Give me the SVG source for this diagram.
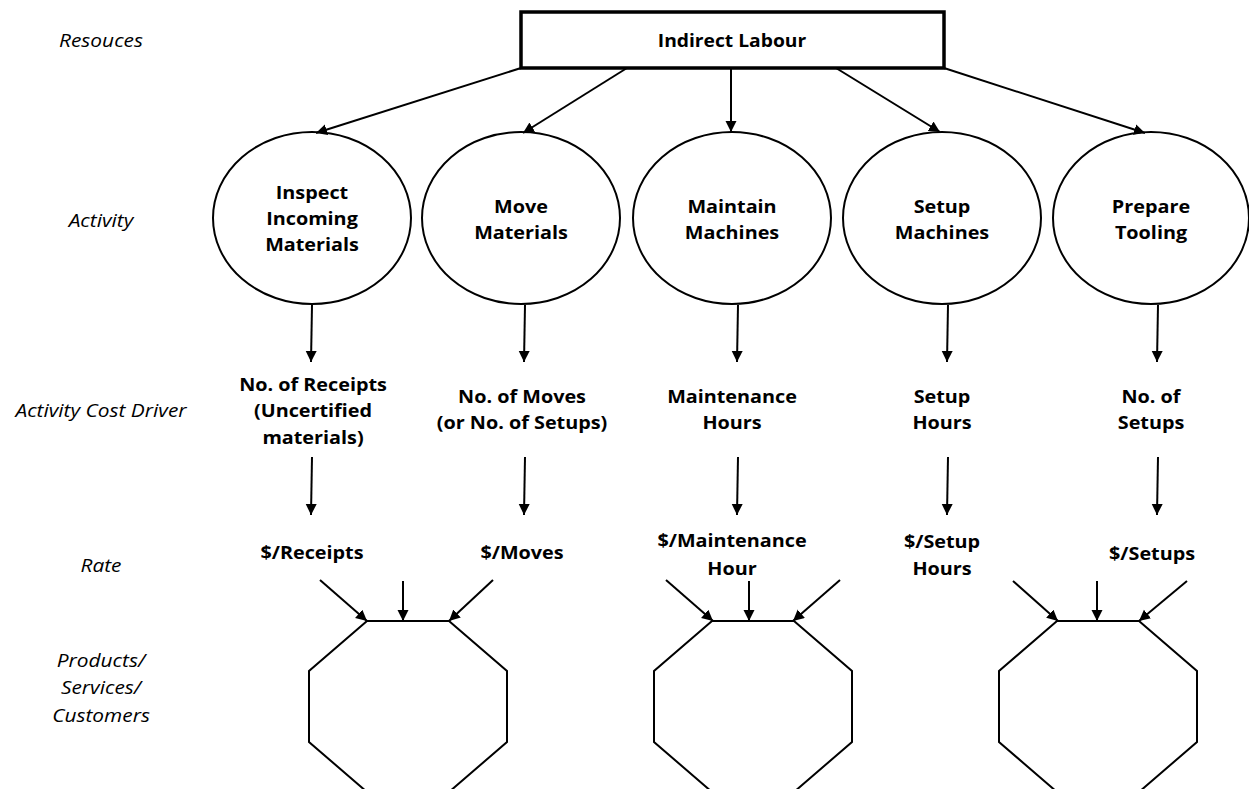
<svg xmlns="http://www.w3.org/2000/svg" width="1249" height="789" viewBox="0 0 1249 789">
  <style>
    .bg { fill: #ffffff; }
    .box { fill: #ffffff; stroke: #000000; stroke-width: 3.5; }
    .act { fill: #ffffff; stroke: #000000; stroke-width: 2; }
    .oct { fill: none; stroke: #000000; stroke-width: 2; stroke-linejoin: miter; }
    .edge { fill: none; stroke: #000000; stroke-width: 2; marker-end: url(#arrow); }
    .lbl { font-family: "Open Sans", "Liberation Sans", sans-serif; font-size: 18px; font-style: italic; fill: #000000; text-anchor: middle; }
    .node { font-family: "Open Sans", "Liberation Sans", sans-serif; font-size: 18px; font-weight: bold; fill: #000000; text-anchor: middle; }
  </style>
  <defs>
    <marker id="arrow" markerUnits="userSpaceOnUse" markerWidth="12" markerHeight="12" refX="11" refY="5.5" orient="auto">
      <path d="M0,0 L11,5.5 L0,11 z" fill="#000000"/>
    </marker>
  </defs>

  <rect class="bg" x="0" y="0" width="1249" height="789"/>

  <!-- row captions -->
  <g id="row-labels">
    <text class="lbl" transform="translate(101 0) scale(1.16 1)"><tspan x="0" y="47">Resouces</tspan></text>
    <text class="lbl" transform="translate(101 0) scale(1.16 1)"><tspan x="0" y="227">Activity</tspan></text>
    <text class="lbl" transform="translate(101 0) scale(1.16 1)"><tspan x="0" y="417">Activity Cost Driver</tspan></text>
    <text class="lbl" transform="translate(101 0) scale(1.16 1)"><tspan x="0" y="572">Rate</tspan></text>
    <text class="lbl" transform="translate(101 0) scale(1.16 1)"><tspan x="0" y="667">Products/</tspan><tspan x="0" y="694">Services/</tspan><tspan x="0" y="722">Customers</tspan></text>
  </g>

  <!-- resource -->
  <g id="indirect-labour">
    <rect class="box" x="521" y="12" width="423" height="56"/>
    <text class="node" transform="translate(732 0) scale(1.07 1)"><tspan x="0" y="47">Indirect Labour</tspan></text>
  </g>

  <!-- activities -->
  <g id="inspect-incoming-materials">
    <ellipse class="act" cx="312" cy="218" rx="99" ry="86"/>
    <text class="node" transform="translate(312 0) scale(1.1 1)"><tspan x="0" y="199">Inspect</tspan><tspan x="0" y="225">Incoming</tspan><tspan x="0" y="251">Materials</tspan></text>
  </g>
  <g id="move-materials">
    <ellipse class="act" cx="521" cy="218" rx="99" ry="86"/>
    <text class="node" transform="translate(521 0) scale(1.1 1)"><tspan x="0" y="213">Move</tspan><tspan x="0" y="239">Materials</tspan></text>
  </g>
  <g id="maintain-machines">
    <ellipse class="act" cx="732" cy="218" rx="99" ry="86"/>
    <text class="node" transform="translate(732 0) scale(1.1 1)"><tspan x="0" y="213">Maintain</tspan><tspan x="0" y="239">Machines</tspan></text>
  </g>
  <g id="setup-machines">
    <ellipse class="act" cx="942" cy="218" rx="99" ry="86"/>
    <text class="node" transform="translate(942 0) scale(1.1 1)"><tspan x="0" y="213">Setup</tspan><tspan x="0" y="239">Machines</tspan></text>
  </g>
  <g id="prepare-tooling">
    <ellipse class="act" cx="1151" cy="218" rx="98" ry="86"/>
    <text class="node" transform="translate(1151 0) scale(1.1 1)"><tspan x="0" y="213">Prepare</tspan><tspan x="0" y="239">Tooling</tspan></text>
  </g>

  <!-- cost drivers -->
  <g id="driver-receipts">
    <text class="node" transform="translate(313 0) scale(1.1 1)"><tspan x="0" y="391">No. of Receipts</tspan><tspan x="0" y="417">(Uncertified</tspan><tspan x="0" y="444">materials)</tspan></text>
  </g>
  <g id="driver-moves">
    <text class="node" transform="translate(522 0) scale(1.1 1)"><tspan x="0" y="403">No. of Moves</tspan><tspan x="0" y="429">(or No. of Setups)</tspan></text>
  </g>
  <g id="driver-maintenance-hours">
    <text class="node" transform="translate(732 0) scale(1.1 1)"><tspan x="0" y="403">Maintenance</tspan><tspan x="0" y="429">Hours</tspan></text>
  </g>
  <g id="driver-setup-hours">
    <text class="node" transform="translate(942 0) scale(1.1 1)"><tspan x="0" y="403">Setup</tspan><tspan x="0" y="429">Hours</tspan></text>
  </g>
  <g id="driver-setups">
    <text class="node" transform="translate(1151 0) scale(1.1 1)"><tspan x="0" y="403">No. of</tspan><tspan x="0" y="429">Setups</tspan></text>
  </g>

  <!-- rates -->
  <g id="rate-receipts">
    <text class="node" transform="translate(312 0) scale(1.1 1)"><tspan x="0" y="559">$/Receipts</tspan></text>
  </g>
  <g id="rate-moves">
    <text class="node" transform="translate(522 0) scale(1.1 1)"><tspan x="0" y="559">$/Moves</tspan></text>
  </g>
  <g id="rate-maintenance">
    <text class="node" transform="translate(732 0) scale(1.1 1)"><tspan x="0" y="547">$/Maintenance</tspan><tspan x="0" y="575">Hour</tspan></text>
  </g>
  <g id="rate-setup-hours">
    <text class="node" transform="translate(942 0) scale(1.1 1)"><tspan x="0" y="548">$/Setup</tspan><tspan x="0" y="575">Hours</tspan></text>
  </g>
  <g id="rate-setups">
    <text class="node" transform="translate(1152 0) scale(1.1 1)"><tspan x="0" y="560">$/Setups</tspan></text>
  </g>

  <!-- cost objects -->
  <g id="cost-object-1">
    <polygon class="oct" points="367,621 449,621 507,671 507,742 449,792 367,792 309,742 309,671"/>
  </g>
  <g id="cost-object-2">
    <polygon class="oct" points="712,621 794,621 852,671 852,742 794,792 712,792 654,742 654,671"/>
  </g>
  <g id="cost-object-3">
    <polygon class="oct" points="1057,621 1139,621 1197,671 1197,742 1139,792 1057,792 999,742 999,671"/>
  </g>

  <!-- connectors -->
  <g id="connectors">
    <!-- resource to activities -->
    <line class="edge" x1="521" y1="68" x2="316" y2="133"/>
    <line class="edge" x1="627" y1="68" x2="523" y2="133"/>
    <line class="edge" x1="731" y1="69" x2="731" y2="132"/>
    <line class="edge" x1="836" y1="68" x2="940" y2="132"/>
    <line class="edge" x1="944" y1="68" x2="1145" y2="133"/>
    <!-- activities to drivers -->
    <line class="edge" x1="312" y1="305" x2="311" y2="362"/>
    <line class="edge" x1="525" y1="305" x2="524" y2="362"/>
    <line class="edge" x1="738" y1="305" x2="737" y2="362"/>
    <line class="edge" x1="948" y1="305" x2="947" y2="362"/>
    <line class="edge" x1="1158" y1="305" x2="1157" y2="362"/>
    <!-- drivers to rates -->
    <line class="edge" x1="312" y1="457" x2="311" y2="515"/>
    <line class="edge" x1="525" y1="457" x2="524" y2="515"/>
    <line class="edge" x1="738" y1="457" x2="737" y2="515"/>
    <line class="edge" x1="948" y1="457" x2="947" y2="515"/>
    <line class="edge" x1="1158" y1="457" x2="1157" y2="515"/>
    <!-- rates to cost objects -->
    <line class="edge" x1="320" y1="580" x2="367" y2="621"/>
    <line class="edge" x1="403" y1="581" x2="403" y2="621"/>
    <line class="edge" x1="493" y1="580" x2="449" y2="621"/>
    <line class="edge" x1="666" y1="580" x2="713" y2="621"/>
    <line class="edge" x1="749" y1="581" x2="749" y2="621"/>
    <line class="edge" x1="840" y1="580" x2="793" y2="621"/>
    <line class="edge" x1="1013" y1="581" x2="1058" y2="621"/>
    <line class="edge" x1="1097" y1="581" x2="1097" y2="621"/>
    <line class="edge" x1="1187" y1="581" x2="1139" y2="621"/>
  </g>
</svg>
